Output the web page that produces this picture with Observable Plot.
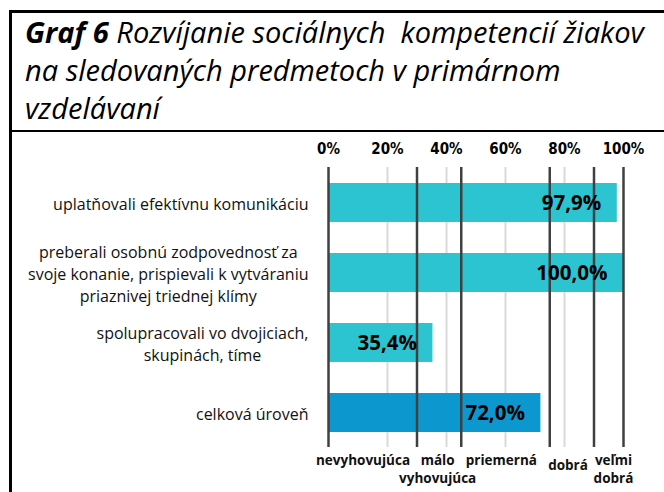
<!DOCTYPE html>
<html><head><meta charset="utf-8">
<script src="https://cdn.jsdelivr.net/npm/d3@7"></script>
<script src="https://cdn.jsdelivr.net/npm/@observablehq/plot@0.6"></script>
<style>
html,body{margin:0;padding:0;background:#fff;width:664px;height:492px;overflow:hidden;}
#frame{position:absolute;left:9px;top:10px;width:655px;height:482px;border-left:3px solid #000;border-top:3px solid #000;box-sizing:border-box;}
#title{height:119px;box-sizing:border-box;border-bottom:2px solid #000;padding-left:13px;font-family:"Open Sans";font-style:italic;font-size:29px;line-height:38px;color:#000;white-space:nowrap;}
#chart{position:absolute;left:0;top:119px;}
</style></head>
<body>
<div id="frame">
  <div id="title"><b>Graf 6</b> Rozvíjanie sociálnych&nbsp; kompetencií žiakov<br>na sledovaných predmetoch v primárnom<br>vzdelávaní</div>
  <div id="chart"></div>
</div>
<script>
const categories = [
  "uplatňovali efektívnu komunikáciu",
  "preberali osobnú zodpovednosť za\nsvoje konanie, prispievali k vytváraniu\npriaznivej triednej klímy",
  "spolupracovali vo dvojiciach,\nskupinách, tíme",
  "celková úroveň"
];
const values = [97.9, 100.0, 35.4, 72.0];
const kinds = ["item", "item", "item", "total"];
const xTicks = [0, 20, 40, 60, 80, 100];
const minorGrid = [20, 40, 60, 80];
const levelBounds = [0, 30, 45, 75, 90, 100];
const levelLabels = ["nevyhovujúca", "málo\nvyhovujúca", "priemerná", "dobrá", "veľmi\ndobrá"];
const levelLabelPos = [11.7, 37, 58.6, 81.2, 96.6];

const data = categories.map((c, i) => ({label: c, value: values[i], kind: kinds[i]}));
const levels = levelLabels.map((t, i) => ({text: t, x: levelLabelPos[i]}));

const canvas = document.createElement("canvas");
const ctx = canvas.getContext("2d");
ctx.font = "16px 'Open Sans'";
function blockWidth(s) { return Math.max(...s.split("\n").map(l => ctx.measureText(l).width)); }

const inset = {insetTop: 16, insetBottom: 17.5};
const fmt = d => d.value.toFixed(1).replace(".", ",") + "%";

const yLabelMarks = data.map(d => Plot.text([d], {
  x: () => 0, y: "label", text: "label", textAnchor: "middle",
  dx: -(20 + blockWidth(d.label) / 2), lineHeight: 1.375,
  fontSize: 16, fontFamily: "Open Sans", fill: "#111"
}));

const chart = Plot.plot({
  width: 652, height: 360,
  marginLeft: 316, marginRight: 41, marginTop: 19, marginBottom: 27.5,
  style: {fontFamily: "Open Sans", background: "transparent"},
  x: {domain: [0, 100], label: null, axis: null},
  y: {domain: categories, padding: 0.44, axis: null},
  color: {domain: ["item", "total"], range: ["#2dc4d1", "#0c98ce"]},
  marks: [
    Plot.ruleX(minorGrid, {stroke: "#d9d9d9", strokeWidth: 2, ...inset}),
    Plot.barX(data, {x: "value", y: "label", fill: "kind"}),
    Plot.ruleX(levelBounds, {stroke: "#404040", strokeWidth: 2.5, ...inset}),
    Plot.text(data, {x: "value", y: "label", text: fmt, textAnchor: "end", dx: -16,
      fontSize: 20.5, fontWeight: 700, fontFamily: "Open Sans", fill: "#000"}),
    ...yLabelMarks,
    Plot.text(xTicks, {x: d => d, text: d => d + "%", frameAnchor: "top", lineAnchor: "bottom", dy: 2,
      fontSize: 15, fontWeight: 700, fontFamily: "DejaVu Sans Condensed", fill: "#000"}),
    Plot.text(levels.filter(d => d.text !== "dobrá"), {x: "x", text: "text", frameAnchor: "bottom",
      lineAnchor: "top", dy: -13, lineHeight: 1.36, fontSize: 13.5, fontWeight: 700,
      fontFamily: "Open Sans", fill: "#111"}),
    Plot.text(levels.filter(d => d.text === "dobrá"), {x: "x", text: "text", frameAnchor: "bottom",
      lineAnchor: "top", dy: -8.5, lineHeight: 1.36, fontSize: 13.5, fontWeight: 700,
      fontFamily: "Open Sans", fill: "#111"})
  ]
});
document.getElementById("chart").appendChild(chart);
</script>
</body></html>
